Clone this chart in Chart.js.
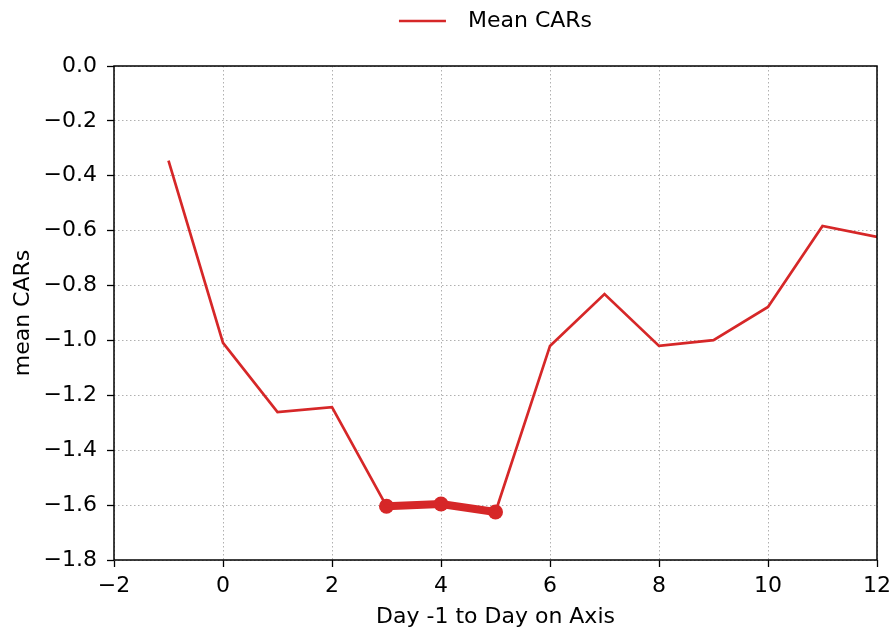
<!DOCTYPE html>
<html>
<head>
<meta charset="utf-8">
<script src="https://cdn.jsdelivr.net/npm/chart.js@4.4.1/dist/chart.umd.min.js"></script>
<style>
  html, body { margin: 0; padding: 0; background: #fff; }
  #wrap { width: 895px; height: 633px; }
</style>
</head>
<body>
<div id="wrap"><canvas id="c" width="895" height="633"></canvas></div>
<script>
// values
const days = [-1, 0, 1, 2, 3, 4, 5, 6, 7, 8, 9, 10, 11, 12];
const meanCars = [-0.345, -1.009, -1.261, -1.243, -1.604, -1.596, -1.625, -1.020, -0.831, -1.020, -0.999, -0.878, -0.583, -0.623];
const highlightDays = [3, 4, 5];
const highlightCars = [-1.604, -1.596, -1.625];

const red = '#d62728';
const minus = s => String(s).replace('-', '\u2212');
const font = { family: 'DejaVu Sans', size: 22 };

// box around the plot area like matplotlib
const frame = {
    id: 'frame',
    beforeLayout(chart) {
        // push plot area down below the legend
        const lg = chart.legend;
        if (lg && !lg._patched) {
            const fit = lg.fit.bind(lg);
            lg.fit = function () { fit(); this.height += 24; };
            lg._patched = true;
        }
    },
    afterDraw(chart) {
        const { ctx, chartArea: a } = chart;
        ctx.save();
        ctx.strokeStyle = '#000';
        ctx.lineWidth = 1.5;
        ctx.strokeRect(a.left, a.top, a.right - a.left, a.bottom - a.top);
        ctx.restore();
    }
};

const gridOpts = {
    color: '#b0b0b0',
    lineWidth: 1,
    tickColor: '#000',
    tickLength: 7,
    tickWidth: 1.3
};

new Chart(document.getElementById('c'), {
    type: 'line',
    data: {
        datasets: [
            {
                label: 'Mean CARs',
                data: days.map((d, i) => ({ x: d, y: meanCars[i] })),
                borderColor: red,
                backgroundColor: red,
                borderWidth: 2.7,
                pointRadius: 0,
                pointStyle: 'line',
                tension: 0
            },
            {
                label: 'highlight',
                data: highlightDays.map((d, i) => ({ x: d, y: highlightCars[i] })),
                borderColor: red,
                backgroundColor: red,
                borderWidth: 8,
                pointRadius: 7.5,
                pointBorderWidth: 0,
                tension: 0
            }
        ]
    },
    options: {
        responsive: false,
        animation: false,
        layout: { padding: { left: 0, right: 18, top: 3, bottom: 0 } },
        plugins: {
            tooltip: { enabled: false },
            legend: {
                position: 'top',
                fullSize: false,
                labels: {
                    filter: item => item.datasetIndex === 0,
                    generateLabels: chart => Chart.defaults.plugins.legend.labels.generateLabels(chart)
                        .map(l => Object.assign(l, { text: '\u2002' + l.text })),
                    usePointStyle: true,
                    pointStyle: 'line',
                    pointStyleWidth: 47,
                    padding: 7,
                    color: '#000',
                    font: font
                }
            }
        },
        scales: {
            x: {
                type: 'linear',
                min: -2,
                max: 12,
                ticks: {
                    stepSize: 2,
                    color: '#000',
                    font: font,
                    padding: 6,
                    callback: v => minus(v)
                },
                grid: gridOpts,
                border: { display: false, dash: [1.5, 2.5] },
                title: { display: true, text: 'Day -1 to Day on Axis', color: '#000', font: font, padding: { top: 2, bottom: 3 } },
                afterFit: s => { s.height = 73; s.paddingLeft = 0; s.paddingRight = 0; }
            },
            y: {
                min: -1.8,
                max: 0,
                ticks: {
                    stepSize: 0.2,
                    color: '#000',
                    font: font,
                    padding: 10,
                    callback: v => minus(Number(v).toFixed(1))
                },
                grid: gridOpts,
                border: { display: false, dash: [1.5, 2.5] },
                title: { display: true, text: 'mean CARs', color: '#000', font: font, padding: { top: 10, bottom: 4 } },
                afterFit: s => { s.width = 114; }
            }
        }
    },
    plugins: [frame]
});
</script>
</body>
</html>
